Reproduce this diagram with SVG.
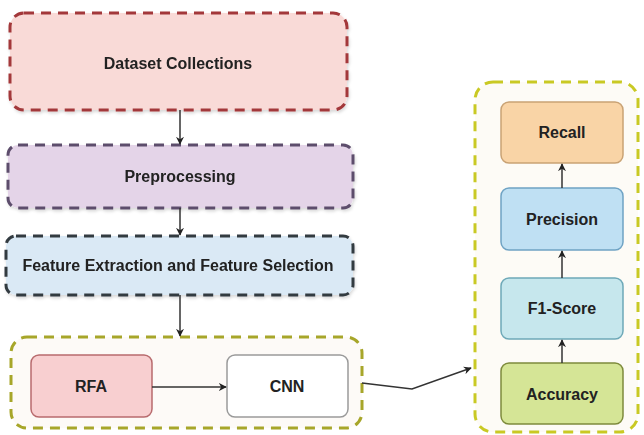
<svg xmlns="http://www.w3.org/2000/svg" width="644" height="435" viewBox="0 0 644 435">
<defs>
<style>
text{font-family:"Liberation Sans",Arial,sans-serif;font-weight:bold;font-size:16px;fill:#222;text-anchor:middle;dominant-baseline:central}
.dash{stroke-width:3;stroke-dasharray:10 7}
.solid{stroke-width:1.5}
.conn{stroke:#333;stroke-width:1.5;fill:none}
</style>
<marker id="ah" viewBox="0 0 10 10" refX="9" refY="5" markerWidth="8" markerHeight="8" orient="auto" markerUnits="userSpaceOnUse">
<path d="M0,0 L10,5 L0,10 L3,5 Z" fill="#222"/>
</marker>
<filter id="sh" x="-5%" y="-10%" width="110%" height="125%">
<feDropShadow dx="1" dy="2" stdDeviation="1.5" flood-color="#000" flood-opacity="0.15"/>
</filter>
</defs>
<rect width="644" height="435" fill="#fff"/>
<g id="dataset" filter="url(#sh)">
<rect class="dash" x="10" y="13" width="337" height="97" rx="14" fill="#f9dad7" stroke="#a3393a"/>
<text x="178" y="63">Dataset Collections</text>
</g>
<g id="preprocessing" filter="url(#sh)">
<rect class="dash" x="8" y="145" width="345" height="63" rx="10" fill="#e4d4e8" stroke="#5d4e6c"/>
<text x="180" y="176">Preprocessing</text>
</g>
<g id="feature" filter="url(#sh)">
<rect class="dash" x="6" y="236" width="347" height="59" rx="10" fill="#dae9f5" stroke="#333a40"/>
<text x="178" y="265">Feature Extraction and Feature Selection</text>
</g>
<g id="model-group">
<rect class="dash" x="11" y="337" width="351" height="91" rx="16" fill="#fdfaf7" stroke="#a7a62a"/>
</g>
<g id="rfa">
<rect class="solid" x="31" y="355" width="121" height="62" rx="8" fill="#f8cfd0" stroke="#b86b6e"/>
<text x="91" y="386">RFA</text>
</g>
<g id="cnn">
<rect class="solid" x="227" y="355" width="121" height="62" rx="8" fill="#ffffff" stroke="#9a9a9a"/>
<text x="287" y="386">CNN</text>
</g>
<g id="metrics-group">
<rect class="dash" x="475" y="82" width="163" height="350" rx="18" fill="#fdfbf6" stroke="#c9c924"/>
</g>
<g id="recall">
<rect class="solid" x="501" y="102" width="122" height="61" rx="8" fill="#f9d4a6" stroke="#c9a274"/>
<text x="562" y="132">Recall</text>
</g>
<g id="precision">
<rect class="solid" x="501" y="188" width="122" height="62" rx="8" fill="#bfe0f3" stroke="#6fa3c4"/>
<text x="562" y="219">Precision</text>
</g>
<g id="f1">
<rect class="solid" x="501" y="278" width="122" height="61" rx="8" fill="#c6e7ed" stroke="#6ea9b8"/>
<text x="562" y="308">F1-Score</text>
</g>
<g id="accuracy">
<rect class="solid" x="501" y="363" width="122" height="61" rx="8" fill="#d5e596" stroke="#7e8b3c"/>
<text x="562" y="394">Accuracy</text>
</g>
<g id="connectors">
<line class="conn" x1="180" y1="110" x2="180" y2="144" marker-end="url(#ah)"/>
<line class="conn" x1="180" y1="208" x2="180" y2="235" marker-end="url(#ah)"/>
<line class="conn" x1="180" y1="295" x2="180" y2="336" marker-end="url(#ah)"/>
<line class="conn" x1="152" y1="387" x2="226" y2="387" marker-end="url(#ah)"/>
<polyline class="conn" points="362,383 412,389 471,368" marker-end="url(#ah)"/>
<line class="conn" x1="562" y1="363" x2="562" y2="340" marker-end="url(#ah)"/>
<line class="conn" x1="562" y1="278" x2="562" y2="251" marker-end="url(#ah)"/>
<line class="conn" x1="562" y1="188" x2="562" y2="164" marker-end="url(#ah)"/>
</g>
</svg>
